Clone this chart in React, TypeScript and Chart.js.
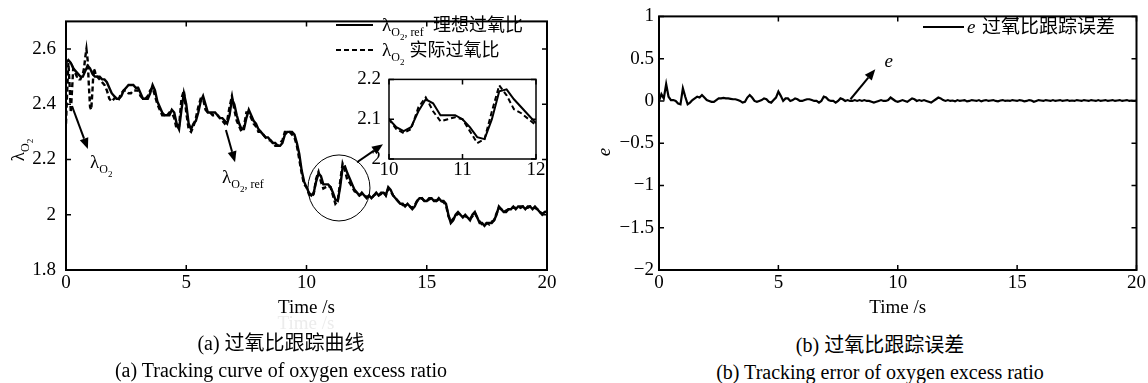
import React, { useEffect, useRef } from "react";
import { Chart, registerables } from "chart.js";

Chart.register(...registerables);

const FONT = '"Liberation Serif", "Noto Sans CJK SC", serif';

// time grids
const TIME_STEP = 0.1;
const EARLY_STEP = 0.05;
const LATE_START = 1.4;

// λO2,ref : ideal oxygen excess ratio, t = 0 … 20 s every 0.1 s
const refRatio = [
  2.55, 2.56, 2.55, 2.53, 2.52, 2.51, 2.50, 2.50, 2.52, 2.54,
  2.53, 2.51, 2.50, 2.50, 2.50, 2.49, 2.49, 2.48, 2.46, 2.44,
  2.43, 2.42, 2.42, 2.43, 2.45, 2.46, 2.47, 2.47, 2.47, 2.46,
  2.46, 2.44, 2.42, 2.42, 2.42, 2.44, 2.47, 2.45, 2.41, 2.39,
  2.37, 2.36, 2.36, 2.36, 2.38, 2.37, 2.33, 2.31, 2.38, 2.44,
  2.40, 2.33, 2.31, 2.33, 2.34, 2.37, 2.41, 2.43, 2.40, 2.37,
  2.37, 2.37, 2.37, 2.36, 2.35, 2.35, 2.34, 2.33, 2.36, 2.42,
  2.40, 2.36, 2.33, 2.31, 2.31, 2.35, 2.38, 2.36, 2.34, 2.33,
  2.31, 2.30, 2.29, 2.28, 2.28, 2.27, 2.26, 2.26, 2.25, 2.25,
  2.26, 2.29, 2.30, 2.30, 2.30, 2.29, 2.26, 2.22, 2.16, 2.12,
  2.10, 2.08, 2.07, 2.08, 2.12, 2.15, 2.14, 2.11, 2.11, 2.11,
  2.10, 2.08, 2.055, 2.05, 2.10, 2.17, 2.175, 2.15, 2.13, 2.11,
  2.09, 2.08, 2.07, 2.08, 2.07, 2.06, 2.07, 2.06, 2.07, 2.08,
  2.07, 2.08, 2.08, 2.07, 2.10, 2.09, 2.07, 2.06, 2.05, 2.04,
  2.04, 2.03, 2.04, 2.03, 2.02, 2.03, 2.05, 2.06, 2.06, 2.05,
  2.05, 2.06, 2.06, 2.05, 2.05, 2.06, 2.05, 2.05, 2.04, 2.00,
  1.97, 1.98, 2.00, 2.01, 2.00, 1.99, 2.00, 1.99, 1.98, 2.00,
  2.01, 1.99, 1.97, 1.97, 1.96, 1.97, 1.97, 1.97, 1.98, 2.00,
  2.03, 2.02, 2.01, 2.01, 2.02, 2.02, 2.03, 2.02, 2.03, 2.03,
  2.03, 2.02, 2.03, 2.03, 2.02, 2.03, 2.02, 2.01, 2.00, 2.01,
  2.01,
];

// λO2 : actual ratio, t = 0 … 1.3 s every 0.05 s
const actualEarly = [
  2.33, 2.45, 2.55, 2.47, 2.37, 2.45, 2.53, 2.52, 2.51, 2.50,
  2.50, 2.49, 2.49, 2.50, 2.51, 2.53, 2.57, 2.60, 2.56, 2.47,
  2.39, 2.38, 2.45, 2.53, 2.52, 2.50, 2.50,
];

// λO2 : actual ratio, t = 1.4 … 20 s every 0.1 s
const actualLate = [
  2.49, 2.48, 2.47, 2.45, 2.42, 2.41,
  2.42, 2.43, 2.42, 2.44, 2.45, 2.45, 2.44, 2.44, 2.45, 2.45,
  2.45, 2.43, 2.42, 2.42, 2.43, 2.45, 2.46, 2.43, 2.40, 2.38,
  2.36, 2.36, 2.36, 2.37, 2.37, 2.35, 2.31, 2.32, 2.42, 2.45,
  2.37, 2.31, 2.30, 2.32, 2.35, 2.39, 2.42, 2.42, 2.38, 2.37,
  2.37, 2.36, 2.36, 2.36, 2.35, 2.34, 2.33, 2.34, 2.39, 2.43,
  2.38, 2.34, 2.32, 2.30, 2.32, 2.37, 2.37, 2.35, 2.33, 2.32,
  2.30, 2.30, 2.29, 2.28, 2.27, 2.27, 2.26, 2.25, 2.25, 2.26,
  2.27, 2.30, 2.30, 2.30, 2.29, 2.28, 2.25, 2.20, 2.15, 2.11,
  2.10, 2.075, 2.065, 2.075, 2.13, 2.155, 2.12, 2.095, 2.10, 2.105,
  2.10, 2.07, 2.04, 2.05, 2.12, 2.185, 2.16, 2.125, 2.115, 2.10,
  2.085, 2.08, 2.07, 2.075, 2.07, 2.065, 2.065, 2.06, 2.07, 2.075,
  2.07, 2.075, 2.085, 2.07, 2.095, 2.085, 2.07, 2.06, 2.05, 2.04,
  2.035, 2.035, 2.035, 2.03, 2.025, 2.035, 2.05, 2.055, 2.06, 2.05,
  2.05, 2.055, 2.06, 2.055, 2.05, 2.055, 2.05, 2.045, 2.035, 1.995,
  1.975, 1.985, 1.995, 2.005, 2.0, 1.995, 1.995, 1.99, 1.985, 1.995,
  2.005, 1.99, 1.975, 1.965, 1.965, 1.97, 1.965, 1.975, 1.98, 2.005,
  2.025, 2.02, 2.01, 2.015, 2.02, 2.025, 2.025, 2.025, 2.03, 2.025,
  2.03, 2.025, 2.025, 2.03, 2.025, 2.025, 2.02, 2.01, 2.005, 2.005,
  2.015,
];

// e : tracking error, t = 0 … 20 s every 0.1 s
const trackingError = [
  0.0, 0.08, 0.03, 0.20, 0.05, 0.01, 0.01, 0.0, -0.03, -0.04,
  0.15, 0.05, -0.04, -0.02, 0.01, 0.03, 0.05, 0.04, 0.07, 0.04,
  0.01, 0.0, -0.01, -0.01, 0.01, 0.03, 0.03, 0.035, 0.03, 0.03,
  0.025, 0.02, 0.02, 0.01, 0.0, -0.02, -0.01, 0.04, 0.07, 0.04,
  0.0, -0.01, 0.0, 0.01, 0.03, 0.02, -0.01, -0.02, 0.01, 0.04,
  0.11, 0.06, 0.0, 0.03, 0.03, 0.0, 0.01, 0.03, 0.02, 0.0,
  0.0, 0.01, 0.02, 0.02, 0.01, 0.0, 0.0, -0.02, 0.0, 0.05,
  0.04, 0.01, 0.0, 0.0, -0.02, 0.0, 0.03, 0.02, 0.0, 0.01,
  0.0, 0.0, 0.01, 0.0, 0.01, 0.0, 0.01, 0.0, 0.0, -0.01,
  -0.02, -0.01, 0.0, 0.01, 0.0, 0.0, 0.01, 0.04, 0.02, 0.0,
  -0.01, 0.0, 0.01, 0.0, -0.01, 0.01, 0.03, 0.02, 0.0, 0.01,
  0.0, 0.01, 0.0, -0.01, -0.02, 0.0, 0.02, 0.04, 0.03, 0.01,
  0.0, 0.01, 0.0, 0.005, -0.005, 0.01, 0.0, 0.005, 0.01, -0.005,
  0.0, 0.01, 0.005, 0.0, 0.01, -0.005, 0.005, 0.01, 0.0, 0.005,
  0.01, 0.0, -0.005, 0.005, 0.01, 0.0, 0.005, 0.0, 0.01, 0.005,
  0.0, 0.01, 0.005, -0.005, 0.0, 0.01, 0.005, -0.01, 0.0, 0.01,
  0.005, 0.0, 0.01, 0.005, 0.0, 0.01, 0.0, 0.005, 0.01, 0.0,
  0.005, 0.01, 0.0, 0.005, 0.0, 0.01, 0.005, 0.0, 0.01, 0.005,
  0.0, 0.01, 0.005, 0.0, 0.01, 0.0, 0.005, 0.01, 0.0, 0.005,
  0.01, 0.0, 0.005, 0.01, 0.0, 0.005, 0.01, 0.0, 0.005, 0.0,
  0.005,
];

// tick values
const timeTicks = [0, 5, 10, 15, 20];
const ratioTicks = [1.8, 2, 2.2, 2.4, 2.6];
const errorTicks = [-2, -1.5, -1, -0.5, 0, 0.5, 1];
const insetTimeTicks = [10, 11, 12];
const insetRatioTicks = [2, 2.1, 2.2];

// texts
const xTitle = "Time /s";
const refLegend = "理想过氧比";
const actualLegend = "实际过氧比";
const errLegend = "过氧比跟踪误差";
const captionA1 = "(a) 过氧比跟踪曲线";
const captionA2 = "(a) Tracking curve of oxygen excess ratio";
const captionB1 = "(b) 过氧比跟踪误差";
const captionB2 = "(b) Tracking error of oxygen excess ratio";

// annotation anchors (data coordinates)
const lambdaArrow = { from: [0.25, 2.393], to: [0.91, 2.238], label: [1.0, 2.19] };
const refArrow = { from: [6.65, 2.307], to: [7.03, 2.19], label: [6.49, 2.135] };
const zoomCircle = { center: [11.35, 2.097], rx: 31, ry: 33 };
const zoomArrow = { from: [12.1, 2.19], to: [13.18, 2.255] };
const errArrow = { from: [8.02, 0.02], to: [9.06, 0.376], label: [9.44, 0.46] };

function toPoints(values: number[], start: number, step: number) {
  return values.map((v, i) => ({ x: Math.round((start + i * step) * 100) / 100, y: v }));
}

const fmt = (v: any) => {
  const n = Math.round(Number(v) * 100) / 100;
  return String(n).replace("-", "\u2212");
};

type Run = { text: string; size: number; dy: number; italic?: boolean };

function drawRuns(ctx: CanvasRenderingContext2D, x: number, y: number, runs: Run[]) {
  let cx = x;
  for (const r of runs) {
    ctx.font = `${r.italic ? "italic " : ""}${r.size}px ${FONT}`;
    ctx.fillText(r.text, cx, y + r.dy);
    cx += ctx.measureText(r.text).width;
  }
  return cx - x;
}

function measureRuns(ctx: CanvasRenderingContext2D, runs: Run[]) {
  let w = 0;
  for (const r of runs) {
    ctx.font = `${r.italic ? "italic " : ""}${r.size}px ${FONT}`;
    w += ctx.measureText(r.text).width;
  }
  return w;
}

const lambdaRuns = (extra?: string): Run[] => {
  const r: Run[] = [
    { text: "λ", size: 19, dy: 0 },
    { text: "O", size: 12, dy: 5 },
    { text: "2", size: 9, dy: 9 },
  ];
  if (extra) r.push({ text: extra, size: 12, dy: 5 });
  return r;
};

function arrow(ctx: CanvasRenderingContext2D, x1: number, y1: number, x2: number, y2: number) {
  const ang = Math.atan2(y2 - y1, x2 - x1);
  const hl = 11;
  const hw = 4.5;
  const bx = x2 - hl * Math.cos(ang);
  const by = y2 - hl * Math.sin(ang);
  ctx.beginPath();
  ctx.moveTo(x1, y1);
  ctx.lineTo(bx, by);
  ctx.lineWidth = 2;
  ctx.stroke();
  ctx.beginPath();
  ctx.moveTo(x2, y2);
  ctx.lineTo(bx + hw * Math.sin(ang), by - hw * Math.cos(ang));
  ctx.lineTo(bx - hw * Math.sin(ang), by + hw * Math.cos(ang));
  ctx.closePath();
  ctx.fill();
}

const framePlugin = (lw: number, tickLen: number) => ({
  id: "frame",
  beforeDatasetsDraw(chart: any) {
    const { ctx, chartArea } = chart;
    ctx.save();
    ctx.fillStyle = "#fff";
    ctx.fillRect(chartArea.left, chartArea.top, chartArea.right - chartArea.left, chartArea.bottom - chartArea.top);
    ctx.restore();
  },
  afterDatasetsDraw(chart: any) {
    const { ctx, chartArea, scales } = chart;
    const { left, right, top, bottom } = chartArea;
    const x = scales.x;
    const y = scales.y;
    ctx.save();
    ctx.strokeStyle = "#000";
    ctx.lineWidth = lw;
    ctx.strokeRect(left, top, right - left, bottom - top);
    ctx.lineWidth = 1.5;
    ctx.beginPath();
    x.ticks.forEach((t: any) => {
      const px = x.getPixelForValue(t.value);
      ctx.moveTo(px, bottom);
      ctx.lineTo(px, bottom - tickLen);
      ctx.moveTo(px, top);
      ctx.lineTo(px, top + tickLen);
    });
    y.ticks.forEach((t: any) => {
      const py = y.getPixelForValue(t.value);
      ctx.moveTo(left, py);
      ctx.lineTo(left + tickLen, py);
      ctx.moveTo(right, py);
      ctx.lineTo(right - tickLen, py);
    });
    ctx.stroke();
    ctx.restore();
  },
});

function makeScales(o: {
  xMin: number; xMax: number; yMin: number; yMax: number;
  xTicks: number[]; yTicks: number[]; yWidth: number; xHeight: number;
  xPad: number; yPad: number;
}) {
  const tickFont = { family: FONT, size: 19 };
  return {
    x: {
      type: "linear",
      min: o.xMin,
      max: o.xMax,
      afterBuildTicks: (s: any) => { s.ticks = o.xTicks.map((v) => ({ value: v })); },
      afterFit: (s: any) => { s.height = o.xHeight; },
      grid: { display: false, drawTicks: false },
      border: { display: false },
      ticks: { color: "#000", font: tickFont, padding: o.xPad, maxRotation: 0, autoSkip: false, callback: fmt },
    },
    y: {
      type: "linear",
      min: o.yMin,
      max: o.yMax,
      afterBuildTicks: (s: any) => { s.ticks = o.yTicks.map((v) => ({ value: v })); },
      afterFit: (s: any) => { s.width = o.yWidth; },
      grid: { display: false, drawTicks: false },
      border: { display: false },
      ticks: { color: "#000", font: tickFont, padding: o.yPad, autoSkip: false, callback: fmt },
    },
  };
}

const common = {
  responsive: false,
  maintainAspectRatio: false,
  animation: false as const,
  events: [] as any[],
  plugins: { legend: { display: false }, tooltip: { enabled: false } },
  elements: { point: { radius: 0 }, line: { tension: 0 } },
};

export default function App() {
  const leftRef = useRef<HTMLCanvasElement>(null);
  const rightRef = useRef<HTMLCanvasElement>(null);
  const insetRef = useRef<HTMLCanvasElement>(null);

  useEffect(() => {
    const refPts = toPoints(refRatio, 0, TIME_STEP);
    const actPts = [
      ...toPoints(actualEarly, 0, EARLY_STEP),
      ...toPoints(actualLate, LATE_START, TIME_STEP),
    ];
    const errPts = toPoints(trackingError, 0, TIME_STEP);

    const ratioDatasets = (w: number) => [
      { label: "ref", data: refPts, borderColor: "#000", borderWidth: w, fill: false },
      { label: "actual", data: actPts, borderColor: "#000", borderWidth: w, borderDash: [5, 3], fill: false },
    ];

    const leftDecor = {
      id: "leftDecor",
      afterDraw(chart: any) {
        const { ctx, scales, chartArea } = chart;
        const x = scales.x, y = scales.y;
        const P = (p: number[]) => [x.getPixelForValue(p[0]), y.getPixelForValue(p[1])];
        ctx.save();
        ctx.fillStyle = "#000";
        ctx.strokeStyle = "#000";
        ctx.textBaseline = "alphabetic";
        ctx.textAlign = "left";
        // x title
        ctx.font = `19px ${FONT}`;
        ctx.textAlign = "center";
        ctx.fillText(xTitle, (chartArea.left + chartArea.right) / 2, 313);
        ctx.textAlign = "left";
        // y title rotated
        ctx.save();
        const yr = lambdaRuns();
        const yw = measureRuns(ctx, yr);
        ctx.translate(24, 150);
        ctx.rotate(-Math.PI / 2);
        drawRuns(ctx, -yw / 2, 0, yr);
        ctx.restore();
        // legend
        ctx.lineWidth = 2;
        ctx.beginPath();
        ctx.moveTo(336, 25);
        ctx.lineTo(373, 25);
        ctx.stroke();
        ctx.setLineDash([5, 3]);
        ctx.beginPath();
        ctx.moveTo(336, 50);
        ctx.lineTo(373, 50);
        ctx.stroke();
        ctx.setLineDash([]);
        const w1 = drawRuns(ctx, 382, 31, lambdaRuns(", ref"));
        drawRuns(ctx, Math.max(433, 382 + w1 + 5), 31, [{ text: refLegend, size: 18, dy: 0 }]);
        const w2 = drawRuns(ctx, 382, 56, lambdaRuns());
        drawRuns(ctx, Math.max(409, 382 + w2 + 5), 56, [{ text: actualLegend, size: 18, dy: 0 }]);
        // arrows
        let a = P(lambdaArrow.from), b = P(lambdaArrow.to);
        arrow(ctx, a[0], a[1], b[0], b[1]);
        let l = P(lambdaArrow.label);
        drawRuns(ctx, l[0], l[1] + 6, lambdaRuns());
        a = P(refArrow.from); b = P(refArrow.to);
        arrow(ctx, a[0], a[1], b[0], b[1]);
        l = P(refArrow.label);
        drawRuns(ctx, l[0], l[1] + 6, lambdaRuns(", ref"));
        // circle
        const c = P(zoomCircle.center);
        ctx.lineWidth = 1;
        ctx.beginPath();
        ctx.ellipse(c[0], c[1], zoomCircle.rx, zoomCircle.ry, 0, 0, Math.PI * 2);
        ctx.stroke();
        a = P(zoomArrow.from); b = P(zoomArrow.to);
        arrow(ctx, a[0], a[1], b[0], b[1]);
        ctx.restore();
      },
    };

    const rightDecor = {
      id: "rightDecor",
      afterDraw(chart: any) {
        const { ctx, scales, chartArea } = chart;
        const x = scales.x, y = scales.y;
        const P = (p: number[]) => [x.getPixelForValue(p[0]), y.getPixelForValue(p[1])];
        ctx.save();
        ctx.fillStyle = "#000";
        ctx.strokeStyle = "#000";
        ctx.font = `19px ${FONT}`;
        ctx.textAlign = "center";
        ctx.fillText(xTitle, (chartArea.left + chartArea.right) / 2, 313);
        // y title
        ctx.save();
        ctx.translate(36, 152);
        ctx.rotate(-Math.PI / 2);
        ctx.font = `italic 19px ${FONT}`;
        ctx.textAlign = "center";
        ctx.fillText("e", 0, 0);
        ctx.restore();
        // legend
        ctx.textAlign = "left";
        ctx.lineWidth = 2;
        ctx.beginPath();
        ctx.moveTo(349, 27);
        ctx.lineTo(390, 27);
        ctx.stroke();
        drawRuns(ctx, 393, 33, [{ text: "e", size: 19, dy: 0, italic: true }]);
        drawRuns(ctx, 408, 33, [{ text: errLegend, size: 19, dy: 0 }]);
        // arrow
        const a = P(errArrow.from), b = P(errArrow.to);
        arrow(ctx, a[0], a[1], b[0], b[1]);
        const l = P(errArrow.label);
        ctx.font = `italic 19px ${FONT}`;
        ctx.fillText("e", l[0], l[1] + 5);
        ctx.restore();
      },
    };

    const charts: Chart[] = [];

    charts.push(
      new Chart(leftRef.current as HTMLCanvasElement, {
        type: "line",
        data: { datasets: ratioDatasets(2.4) as any },
        options: {
          ...common,
          layout: { padding: { left: 0, top: 9, right: 27, bottom: 0 } },
          scales: makeScales({
            xMin: 0, xMax: 20, yMin: 1.8, yMax: 2.7,
            xTicks: timeTicks, yTicks: ratioTicks, yWidth: 66, xHeight: 60, xPad: 2, yPad: 10,
          }) as any,
        } as any,
        plugins: [framePlugin(2, 5), leftDecor],
      })
    );

    charts.push(
      new Chart(insetRef.current as HTMLCanvasElement, {
        type: "line",
        data: { datasets: ratioDatasets(2) as any },
        options: {
          ...common,
          layout: { padding: { left: 0, top: 11, right: 14, bottom: 0 } },
          scales: makeScales({
            xMin: 10, xMax: 12, yMin: 2, yMax: 2.2,
            xTicks: insetTimeTicks, yTicks: insetRatioTicks, yWidth: 49, xHeight: 26, xPad: 0, yPad: 8,
          }) as any,
        } as any,
        plugins: [framePlugin(1.5, 5)],
      })
    );

    charts.push(
      new Chart(rightRef.current as HTMLCanvasElement, {
        type: "line",
        data: {
          datasets: [
            { label: "e", data: errPts, borderColor: "#000", borderWidth: 2.2, fill: false },
          ] as any,
        },
        options: {
          ...common,
          layout: { padding: { left: 0, top: 14, right: 10, bottom: 0 } },
          scales: makeScales({
            xMin: 0, xMax: 20, yMin: -2, yMax: 1,
            xTicks: timeTicks, yTicks: errorTicks, yWidth: 85, xHeight: 60, xPad: 2, yPad: 5,
          }) as any,
        } as any,
        plugins: [framePlugin(2, 5), rightDecor],
      })
    );

    return () => charts.forEach((c) => c.destroy());
  }, []);

  const cap: React.CSSProperties = {
    position: "absolute",
    width: 500,
    textAlign: "center",
    fontFamily: FONT,
    fontSize: 20,
    lineHeight: "24px",
    color: "#000",
    whiteSpace: "nowrap",
  };

  return (
    <div style={{ position: "absolute", left: 0, top: 0, width: 1148, height: 383, background: "#fff", overflow: "hidden" }}>
      <canvas ref={leftRef} width={574} height={330} style={{ position: "absolute", left: 0, top: 0 }} />
      <canvas ref={insetRef} width={210} height={125} style={{ position: "absolute", left: 340, top: 60 }} />
      <canvas ref={rightRef} width={574} height={330} style={{ position: "absolute", left: 574, top: 0 }} />
      <div style={{ ...cap, left: 306 - 250, top: 311, color: "#ececec", fontSize: 19 }}>{xTitle}</div>
      <div style={{ ...cap, left: 281 - 250, top: 331 }}>{captionA1}</div>
      <div style={{ ...cap, left: 281 - 250, top: 358 }}>{captionA2}</div>
      <div style={{ ...cap, left: 880 - 250, top: 333 }}>{captionB1}</div>
      <div style={{ ...cap, left: 880 - 250, top: 360 }}>{captionB2}</div>
    </div>
  );
}
